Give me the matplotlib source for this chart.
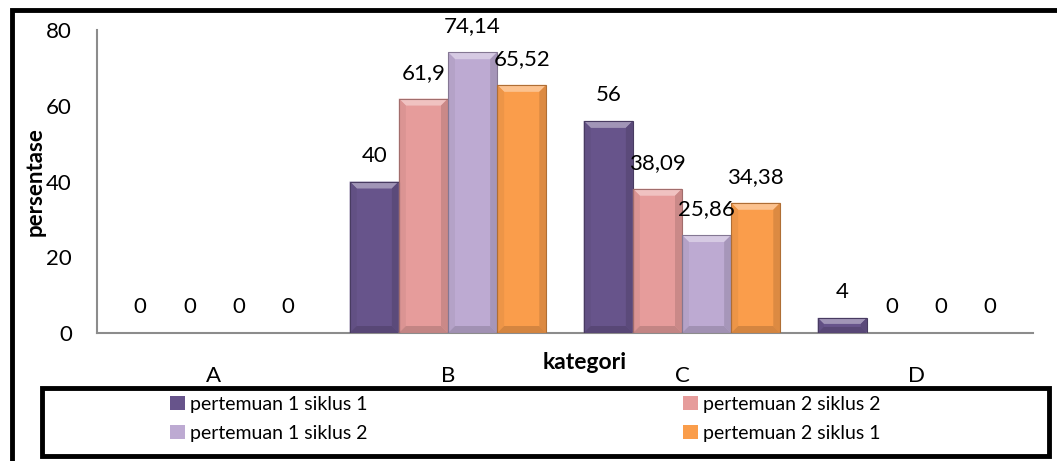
import matplotlib.pyplot as plt
from matplotlib.patches import Polygon, Rectangle
from matplotlib.colors import to_rgb
import numpy as np

categories = ['A', 'B', 'C', 'D']
series_names = ['pertemuan 1 siklus 1', 'pertemuan 2 siklus 2',
                'pertemuan 1 siklus 2', 'pertemuan 2 siklus 1']
p1_s1 = [0, 40, 56, 4]
p2_s2 = [0, 61.9, 38.09, 0]
p1_s2 = [0, 74.14, 25.86, 0]
p2_s1 = [0, 65.52, 34.38, 0]
series_values = [p1_s1, p2_s2, p1_s2, p2_s1]
colors = ['#67548B', '#E69C9B', '#BDAAD2', '#FA9D4B']

plt.rcParams['font.family'] = ['Lato', 'DejaVu Sans']


def mix(c, other, t):
    c = np.array(to_rgb(c))
    o = np.array(to_rgb(other))
    return tuple(c * (1 - t) + o * t)


def fmt(v):
    s = f'{v:.2f}'.rstrip('0').rstrip('.')
    return s.replace('.', ',')


def bevel(ax, x0, w, h, color, ux, uy, size_px=7):
    # beveled edges drawn over a plain bar, sizes in pixels -> data units
    if h <= 0:
        return
    h_px = h / uy
    b = min(size_px, h_px / 2.5)
    bx, by = b * ux, b * uy
    x1 = x0 + w
    faces = [
        ([(x0, h), (x1, h), (x1 - bx, h - by), (x0 + bx, h - by)], mix(color, 'white', 0.38)),
        ([(x0, 0), (x0, h), (x0 + bx, h - by), (x0 + bx, by)], mix(color, 'black', 0.05)),
        ([(x1, 0), (x1, h), (x1 - bx, h - by), (x1 - bx, by)], mix(color, 'black', 0.12)),
        ([(x0, 0), (x1, 0), (x1 - bx, by), (x0 + bx, by)], mix(color, 'black', 0.15)),
    ]
    for pts, fc in faces:
        ax.add_patch(Polygon(pts, closed=True, facecolor=fc, edgecolor='none', zorder=3))
    ax.add_patch(Rectangle((x0, 0), w, h, fill=False, edgecolor=mix(color, 'black', 0.3),
                           linewidth=0.8, zorder=4))


W, H = 1057, 461
fig = plt.figure(figsize=(W / 100, H / 100), dpi=100)
ax = fig.add_axes([97 / W, 1 - 333 / H, 936 / W, 303 / H])

x = np.arange(len(categories))
width = 0.21
ax.set_xlim(-0.5, len(categories) - 0.5)
ax.set_ylim(0, 80)

# data units per pixel
ux = len(categories) / 936
uy = 80 / 303

for i, (vals, c) in enumerate(zip(series_values, colors)):
    pos = x + (i - 1.5) * width
    ax.bar(pos, vals, width=width, color=c, edgecolor='none', label=series_names[i], zorder=2)
    for p, v in zip(pos, vals):
        bevel(ax, p - width / 2, width, v, c, ux, uy)
        ax.annotate(fmt(v), (p, v), xytext=(0, 18.5), textcoords='offset points',
                    ha='center', va='center', fontsize=16, color='black', zorder=5)

ax.set_yticks([0, 20, 40, 60, 80])
ax.set_xticks(x)
ax.set_xticklabels(categories)
ax.tick_params(axis='both', length=0, labelsize=16)
ax.tick_params(axis='y', pad=18)
ax.tick_params(axis='x', pad=24)
for s in ['top', 'right']:
    ax.spines[s].set_visible(False)
for s in ['left', 'bottom']:
    ax.spines[s].set_color('#8C8C8C')
    ax.spines[s].set_linewidth(1.5)

fig.text(35 / W, 1 - 182 / H, 'persentase', rotation=90, ha='center', va='center',
         fontsize=16, fontweight='bold')
fig.text(585 / W, 1 - 362 / H, 'kategori', ha='center', va='center',
         fontsize=16.5, fontweight='bold')

# outer frame and legend box
fig.patches.append(Rectangle((12 / W, -0.2), 1.2, 1.2 - 10 / H, transform=fig.transFigure,
                             fill=False, edgecolor='black', linewidth=3.5))
fig.patches.append(Rectangle((42 / W, 5 / H), 1007 / W, 68 / H, transform=fig.transFigure,
                             fill=False, edgecolor='black', linewidth=3.5))

handles, labels = ax.get_legend_handles_labels()
order = [0, 2, 1, 3]
fig.legend([handles[k] for k in order], [labels[k] for k in order],
           loc='upper left', bbox_to_anchor=(170 / W, 1 - 396 / H), ncol=2,
           frameon=False, fontsize=14, handlelength=0.75, handleheight=0.75,
           handletextpad=0.3, columnspacing=16.2, labelspacing=0.6,
           borderpad=0, borderaxespad=0)

fig.savefig('out.png', dpi=100, facecolor='white')
